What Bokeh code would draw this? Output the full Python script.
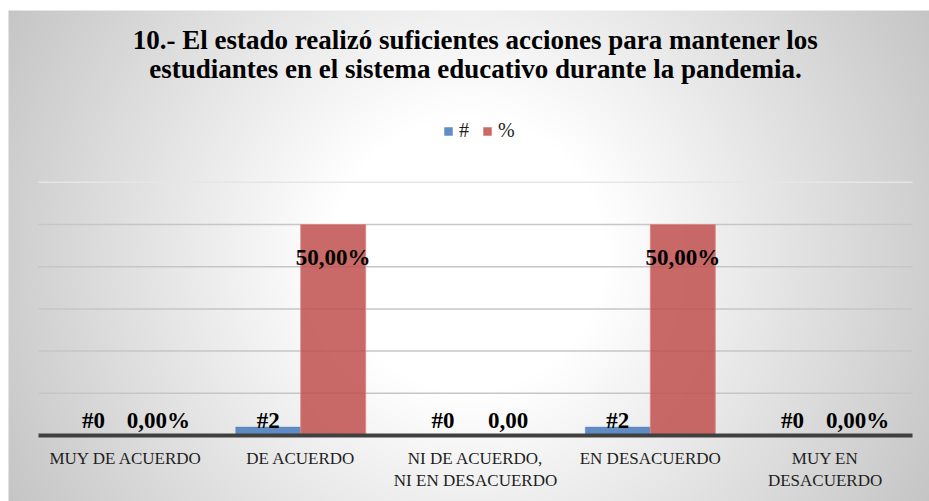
import numpy as np
from bokeh.plotting import figure
from bokeh.models import ColumnDataSource, Range1d, Legend, LegendItem
from bokeh.core.properties import value
from bokeh.embed import file_html
from bokeh.resources import INLINE

# ---------------- data ----------------
title_lines = ["10.- El estado realizó suficientes acciones para mantener los",
               "estudiantes en el sistema educativo durante la pandemia."]
categories = ["MUY DE ACUERDO", "DE ACUERDO", "NI DE ACUERDO,\nNI EN DESACUERDO",
              "EN DESACUERDO", "MUY EN\nDESACUERDO"]
series_names = ["#", "%"]
counts = [0, 2, 0, 2, 0]
percents = [0, 50, 0, 50, 0]
count_labels = ["#0", "#2", "#0", "#2", "#0"]
percent_labels = ["0,00%", "50,00%", "0,00", "50,00%", "0,00%"]
grid_values = [10, 20, 30, 40, 50, 60]

# ---------------- layout ----------------
W, H = 929, 501
PX = 174.8   # px per category
X0 = 38      # px of left edge of category area
Y0 = 435     # px (from top) of value 0
PY = 4.22    # px per value unit

x_start, x_end = -X0 / PX, (W - X0) / PX
y_start, y_end = (Y0 - H) / PY, Y0 / PY

p = figure(width=W, height=H, x_range=Range1d(x_start, x_end), y_range=Range1d(y_start, y_end),
           output_backend="svg", toolbar_location=None, tools="", min_border=0,
           x_axis_type=None, y_axis_type=None, outline_line_color=None)
p.grid.visible = False

# background radial gradient (decoration)
sx = np.arange(W) + 0.5
sy = np.arange(H) + 0.5
XX, YY = np.meshgrid(sx, sy)
r = np.hypot(XX - 468, YY - 254)
g = np.clip(255 - 0.1505 * np.maximum(r - 139, 0), 0, 255)
g[(YY < 10) | (XX < 8)] = 255
g = g.astype(np.uint32)
img = (np.uint32(255) << 24) | (g << 16) | (g << 8) | g
img = np.ascontiguousarray(img[::-1]).view(np.uint32)
p.image_rgba(image=[img], x=x_start, y=y_start, dw=x_end - x_start, dh=y_end - y_start)

n = len(categories)
idx = np.arange(n) + 0.5
bw = 65 / PX

# gridlines
p.segment(x0=0, x1=n, y0=grid_values, y1=grid_values,
          line_color=["#c6c6c6"] * (len(grid_values) - 1) + ["#e6e6e6"], line_width=1.5)

src = ColumnDataSource(dict(xb=idx - bw / 2, xr=idx + bw / 2, counts=counts, percents=percents))
b1 = p.vbar(x="xb", top="counts", bottom=0, width=bw, source=src,
            fill_color="#4f81bd", fill_alpha=0.9, line_color="#4f81bd", line_alpha=0.4)
b2 = p.vbar(x="xr", top="percents", bottom=0, width=bw, source=src,
            fill_color="#c0504d", fill_alpha=0.85, line_color="#d98a88", line_alpha=0.8)

# axis baseline
p.segment(x0=[0], x1=[n], y0=[0], y1=[0], line_color="#404040", line_width=4)

FONT = "'Liberation Serif', 'Times New Roman', serif"
serif = value(FONT)

# category labels
p.text(x=idx, y=[0] * n, text=categories, y_offset=13, text_align="center", text_baseline="top",
       text_font=serif, text_font_size="17px", text_color="#1e1e1e", text_line_height=1.2)

# data labels
p.text(x=idx - bw / 2, y=[0] * n, text=count_labels, y_offset=-15, text_align="center",
       text_baseline="alphabetic", text_font=serif, text_font_style="bold",
       text_font_size="23px", text_color="#000000")
pct_y = [v if v >= 10 else 0 for v in percents]
pct_off = [33 if v >= 10 else -15 for v in percents]
p.text(x=idx + bw / 2, y=pct_y, text=percent_labels, y_offset=pct_off, text_align="center",
       text_baseline="alphabetic", text_font=serif, text_font_style="bold",
       text_font_size="23px", text_color="#000000")

# title
p.text(x=[n / 2] * len(title_lines), y=[0] * len(title_lines), text=title_lines,
       y_offset=[-396, -367], text_align="center", text_baseline="alphabetic",
       text_font=serif, text_font_style="bold", text_font_size="27px", text_color="#000000")

legend = Legend(items=[LegendItem(label=series_names[0], renderers=[b1]),
                       LegendItem(label=series_names[1], renderers=[b2])],
                location=(443, 359), orientation="horizontal", padding=0, margin=0,
                spacing=13, label_standoff=6, glyph_width=10, glyph_height=10,
                label_width=8, label_height=20,
                label_text_font=FONT, label_text_font_size="20px",
                label_text_color="#1e1e1e",
                border_line_color=None, background_fill_alpha=0)
p.add_layout(legend)

open("out.html", "w").write(file_html(p, INLINE))
